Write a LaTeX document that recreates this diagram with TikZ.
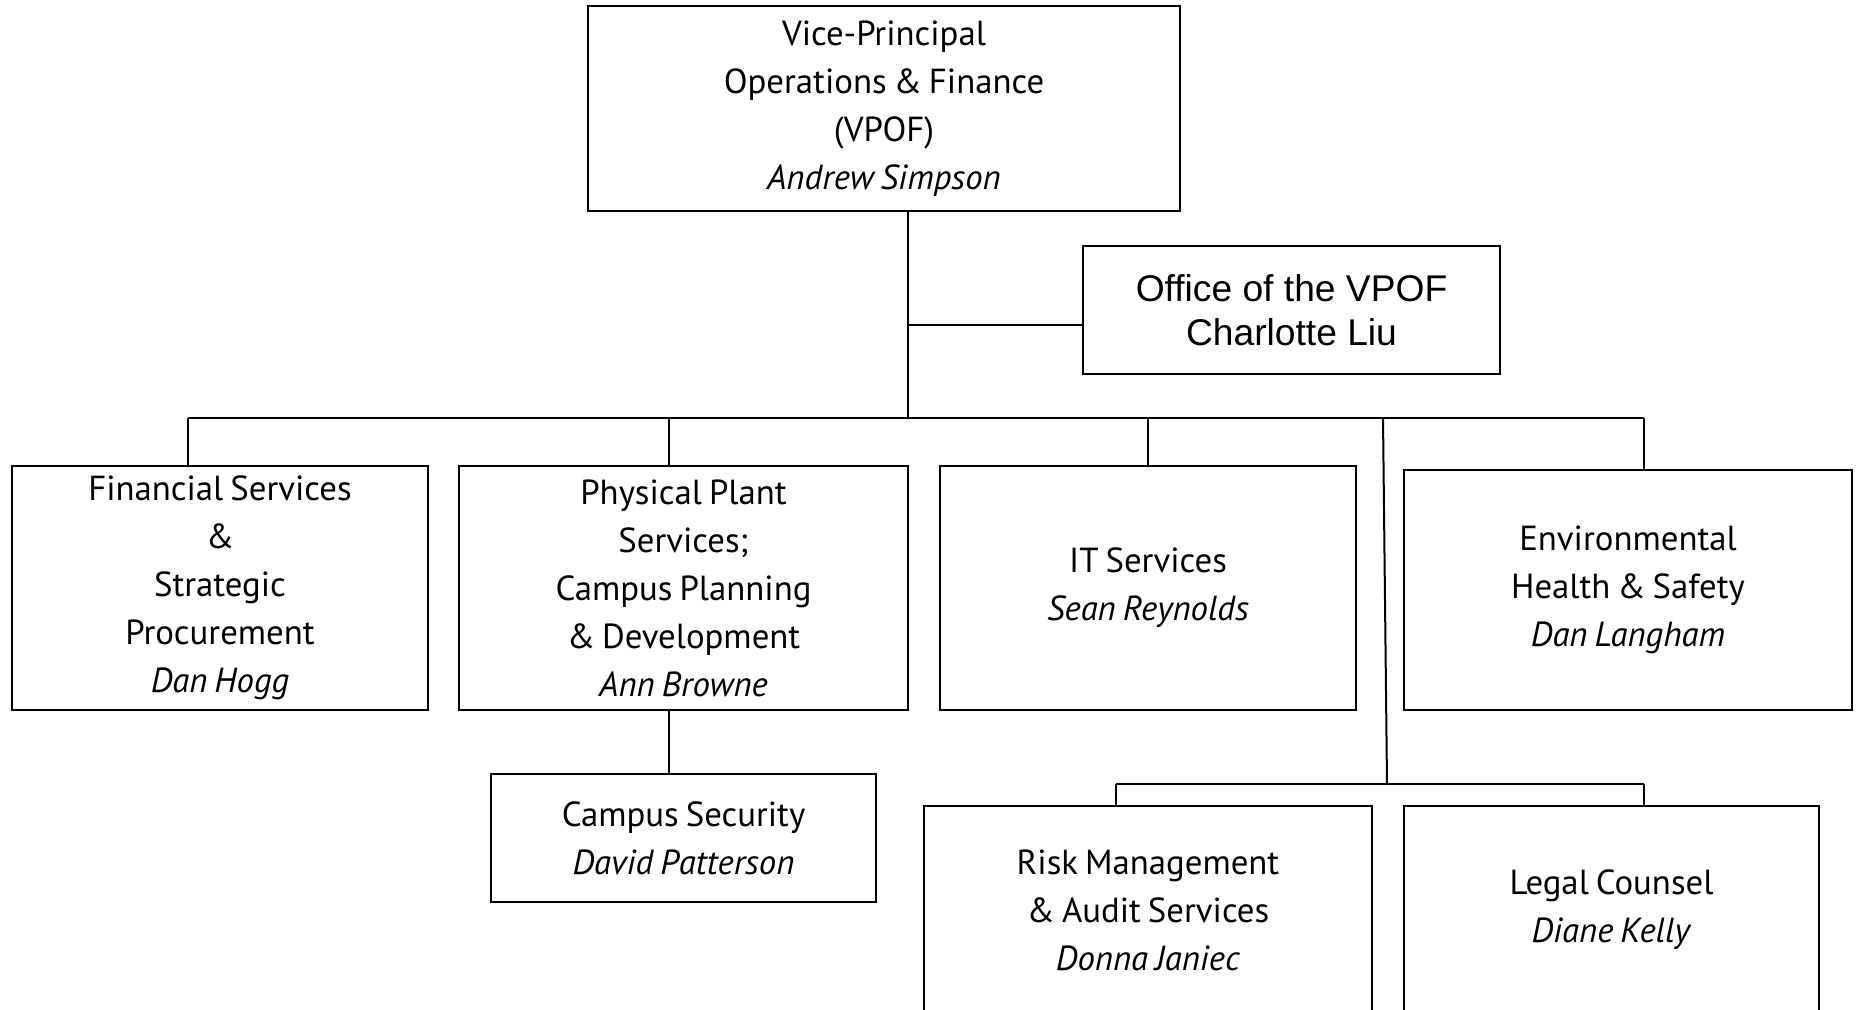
\documentclass[tikz,border=0pt]{standalone}
\usepackage{fontspec}
\setmainfont{PT Sans}[WordSpace=0.75]
\newfontfamily\officefont{Liberation Sans}
\usetikzlibrary{positioning, calc}
\tikzset{
  unit/.style={draw=black, line width=1.2pt, fill=white, align=center, inner sep=2pt,
               font=\fontsize{17.4}{24}\selectfont},
  link/.style={draw=black, line width=1pt},
}
\begin{document}
\begin{tikzpicture}[x=0.5pt, y=-0.5pt]
        \useasboundingbox (0,0) rectangle (1856,1010);
        \clip (0,0) rectangle (1856,1010);
        % head and office
        \node[unit, minimum width=296pt, minimum height=102.5pt] (vp) at (884,108.5)
          {Vice-Principal\\Operations \& Finance\\(VPOF)\\\textit{Andrew Simpson}};
        \node[unit, minimum width=208.5pt, minimum height=64pt, font=\officefont\fontsize{18.6}{22}\selectfont] (office) at (1291.5,310)
          {Office of the VPOF\\Charlotte Liu};
        % departments
        \node[unit, minimum width=208pt, minimum height=122pt] (fs) at (220,588)
          {Financial Services\\\&\\Strategic\\Procurement\\\textit{Dan Hogg}};
        \node[unit, minimum width=224.5pt, minimum height=122pt] (pp) at (683.5,588)
          {Physical Plant\\Services;\\Campus Planning\\\& Development\\\textit{Ann Browne}};
        \node[unit, minimum width=208pt, minimum height=122pt] (it) at (1148,588)
          {IT Services\\\textit{Sean Reynolds}};
        \node[unit, minimum width=224pt, minimum height=120pt] (ehs) at (1628,590)
          {Environmental\\Health \& Safety\\\textit{Dan Langham}};
        \node[unit, minimum width=192.5pt, minimum height=64pt] (cs) at (683.5,838)
          {Campus Security\\\textit{David Patterson}};
        \node[unit, minimum width=224pt, minimum height=104pt] (risk) at (1148,910)
          {Risk Management\\\& Audit Services\\\textit{Donna Janiec}};
        \node[unit, minimum width=207.5pt, minimum height=104pt] (legal) at (1611.5,910)
          {Legal Counsel\\\textit{Diane Kelly}};
        % connectors
        \coordinate (trunk) at (908,418);
        \coordinate (tap) at (908,325.5);
        \coordinate (busL) at (188,418);
        \coordinate (busR) at (1644,418);
        \coordinate (ppdrop) at (669,418);
        \coordinate (fork) at (1383,418);
        \coordinate (subL) at (1116,784);
        \coordinate (subR) at (1644,784);
        \draw[link] (vp.south -| trunk) -- (trunk);
        \draw[link] (tap) -- (tap -| office.west);
        \draw[link] (busL) -- (busR);
        \draw[link] (busL) -- (busL |- fs.north);
        \draw[link] (ppdrop) -- (ppdrop |- pp.north);
        \draw[link] (it.north |- trunk) -- (it.north);
        \draw[link] (busR) -- (busR |- ehs.north);
        \draw[link] (ppdrop |- pp.south) -- (ppdrop |- cs.north);
        \draw[link] (fork) -- (1387,784);
        \draw[link] (subL) -- (subR);
        \draw[link] (subL) -- (subL |- risk.north);
        \draw[link] (subR) -- (subR |- legal.north);
      \end{tikzpicture}
\end{document}
